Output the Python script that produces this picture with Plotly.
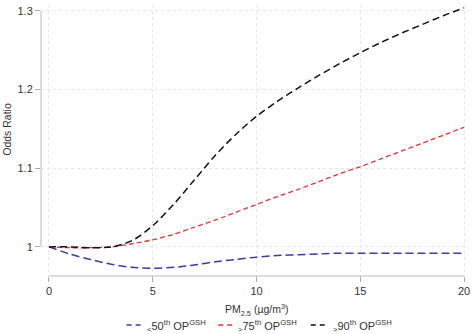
import plotly.graph_objects as go

pm25 = list(range(0, 21))
or_lt50 = [1.0, 0.991, 0.984, 0.978, 0.974, 0.973, 0.974, 0.977, 0.981, 0.984, 0.987,
           0.989, 0.990, 0.991, 0.992, 0.992, 0.992, 0.992, 0.992, 0.992, 0.992]
or_gt75 = [1.0, 0.999, 0.999, 1.0, 1.004, 1.009, 1.016, 1.025, 1.034, 1.044, 1.054,
           1.064, 1.073, 1.083, 1.093, 1.102, 1.112, 1.122, 1.132, 1.142, 1.152]
or_gt90 = [1.0, 1.0, 0.999, 1.0, 1.008, 1.027, 1.054, 1.085, 1.116, 1.143, 1.166,
           1.185, 1.202, 1.218, 1.233, 1.247, 1.260, 1.272, 1.283, 1.294, 1.304]
names = ["<sub>&lt;</sub>50<sup>th</sup> OP<sup>GSH</sup>",
         "<sub>&gt;</sub>75<sup>th</sup> OP<sup>GSH</sup>",
         "<sub>&gt;</sub>90<sup>th</sup> OP<sup>GSH</sup>"]
x_ticks = [0, 5, 10, 15, 20]
y_ticks = [1.0, 1.1, 1.2, 1.3]
y_ticklabels = ["1", "1.1", "1.2", "1.3"]

FONT = "Liberation Sans, Arial, sans-serif"
styles = [("#3a3aae", "8px,4px", 1.5), ("#e03535", "5px,3px", 1.3), ("#111111", "7px,4px", 1.5)]
# legend placement (paper coords): line start, line end, text start
legend_pos = [(0.2005, 0.2354, 0.2424), (0.4149, 0.4476, 0.4569), (0.6317, 0.6667, 0.6780)]
LEG_Y = -0.181

fig = go.Figure()
shapes = [
    dict(type="line", xref="paper", yref="y", x0=0, x1=0, y0=1.0, y1=1.3,
         line=dict(color="#bbbbbb", width=1)),
    dict(type="line", xref="x", yref="paper", x0=0, x1=20, y0=0, y1=0,
         line=dict(color="#bbbbbb", width=1)),
]
annotations = [
    dict(text="Odds Ratio", xref="paper", yref="y", x=-0.080, y=1.15, textangle=-90,
         showarrow=False, xanchor="center", yanchor="middle", font=dict(size=10.5, color="#333")),
    dict(text="PM<sub>2.5</sub> (µg/m<sup>3</sup>)", xref="x", yref="paper", x=10, y=-0.125,
         showarrow=False, xanchor="center", yanchor="middle", font=dict(size=10.5, color="#333")),
]
for ys, nm, (col, dash, w), (lx0, lx1, tx) in zip([or_lt50, or_gt75, or_gt90], names, styles, legend_pos):
    fig.add_trace(go.Scatter(x=pm25, y=ys, mode="lines", name=nm, showlegend=False,
                             line=dict(color=col, dash=dash, width=w, shape="spline", smoothing=0.8)))
    shapes.append(dict(type="line", xref="paper", yref="paper", x0=lx0, x1=lx1, y0=LEG_Y, y1=LEG_Y,
                       line=dict(color=col, dash="5px,4px", width=1.6)))
    annotations.append(dict(text=nm, xref="paper", yref="paper", x=tx, y=LEG_Y - 0.004,
                            showarrow=False, xanchor="left", yanchor="middle",
                            font=dict(size=11, color="#333")))

fig.update_layout(
    width=472, height=334,
    margin=dict(l=41, r=2, t=5, b=58),
    paper_bgcolor="white", plot_bgcolor="white",
    font=dict(family=FONT, size=11, color="#333333"),
    showlegend=False,
    xaxis=dict(range=[-0.384, 20.19], tickvals=x_ticks, showline=False, zeroline=False,
               showgrid=True, gridcolor="#e6e6e6", griddash="dot", gridwidth=1,
               ticklabeloverflow="allow",
               ticks="outside", ticklen=5, tickcolor="#aaaaaa", tickfont=dict(size=11, color="#333")),
    yaxis=dict(range=[0.963, 1.3076], tickvals=y_ticks, ticktext=y_ticklabels, showline=False,
               zeroline=False, showgrid=True, gridcolor="#e6e6e6", griddash="dot", gridwidth=1,
               ticklabeloverflow="allow",
               ticks="outside", ticklen=5, tickcolor="#aaaaaa", tickfont=dict(size=11, color="#333")),
    shapes=shapes,
    annotations=annotations,
)
fig.write_html("out.html", config={"displayModeBar": False},
               post_script="document.body.style.margin='0px';document.body.style.overflow='hidden';")
